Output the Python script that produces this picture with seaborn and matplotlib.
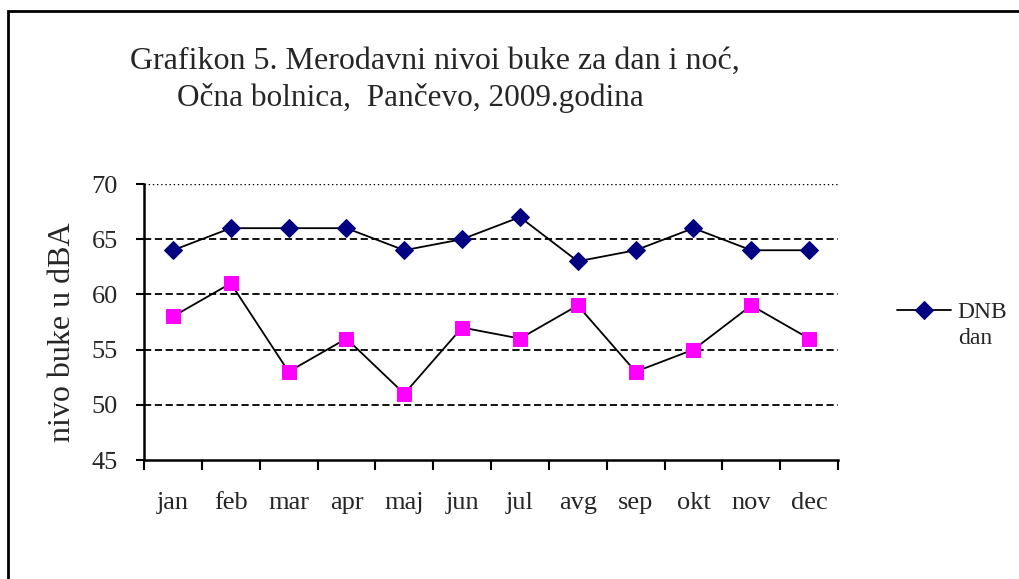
import numpy as np
import pandas as pd
import matplotlib
matplotlib.use('Agg')
import matplotlib.pyplot as plt
import seaborn as sns
from matplotlib.patches import Rectangle

months = ['jan', 'feb', 'mar', 'apr', 'maj', 'jun',
          'jul', 'avg', 'sep', 'okt', 'nov', 'dec']
dnb_dan = [64, 66, 66, 66, 64, 65, 67, 63, 64, 66, 64, 64]
dnb_noc = [58, 61, 53, 56, 51, 57, 56, 59, 53, 55, 59, 56]
y_ticks = [45, 50, 55, 60, 65, 70]

sns.set_style('white')
plt.rcParams['font.family'] = ['Liberation Serif', 'DejaVu Serif']

df = pd.DataFrame({'pos': np.arange(len(months)), 'mesec': months,
                   'dan': dnb_dan, 'noc': dnb_noc})

fig = plt.figure(figsize=(10.2, 5.79), dpi=100)
ax = fig.add_axes([0.1412, 0.2055, 0.6804, 0.4767])

# okvir oko cele slike (desna i donja ivica su odsečene)
fig.patches.append(Rectangle((8 / 1020, -0.05), 1.2, 1 - 11 / 579 + 0.05,
                             transform=fig.transFigure, fill=False,
                             edgecolor='black', linewidth=2))

# mreža
for y in y_ticks[1:-1]:
    ax.axhline(y, color='black', linestyle=(0, (4, 2)), linewidth=1.3, zorder=1)
ax.axhline(70, color='black', linestyle=(0, (1, 2)), linewidth=1.0, zorder=1)

sns.lineplot(data=df, x='pos', y='dan', ax=ax, color='black', linewidth=1.3,
             marker='D', markersize=9, markerfacecolor='#000080',
             markeredgecolor='#000080', label='DNB', zorder=3)
sns.lineplot(data=df, x='pos', y='noc', ax=ax, color='black', linewidth=1.3,
             marker='s', markersize=10, markerfacecolor='#FF00FF',
             markeredgecolor='#FF00FF', label='_noc', zorder=3)

ax.set_xlim(-0.5, len(months) - 0.5)
ax.set_ylim(45, 70)
ax.set_yticks(y_ticks)
ax.set_yticklabels([str(v) for v in y_ticks], fontsize=19)
ax.set_xticks(np.arange(-0.5, len(months), 1.0))
ax.set_xticklabels([])
ax.set_xticks(np.arange(len(months)), minor=True)
ax.set_xticklabels(months, minor=True, fontsize=19)
ax.tick_params(axis='x', which='major', direction='out', length=7, width=1.5,
               color='black', bottom=True)
ax.tick_params(axis='x', which='minor', length=0, pad=23)
ax.tick_params(axis='y', direction='out', length=6, width=1.5, color='black',
               left=True, pad=13)

for s in ['top', 'right']:
    ax.spines[s].set_visible(False)
for s in ['left', 'bottom']:
    ax.spines[s].set_color('black')
    ax.spines[s].set_linewidth(1.8)

ax.set_xlabel('')
ax.set_ylabel('nivo buke u dBA', fontsize=23)
ax.yaxis.set_label_coords(-0.097, 0.464)

ax.legend(loc='center left', bbox_to_anchor=(1.055, 0.535), frameon=False,
          fontsize=17, handlelength=2.25, handletextpad=0.3)
fig.text(958 / 1020, 1 - 339 / 579, 'dan', fontsize=17, ha='left', va='center')

fig.text(0.127, 1 - 61 / 579, 'Grafikon 5. Merodavni nivoi buke za dan i noć,',
         fontsize=23, ha='left', va='center')
fig.text(0.174, 1 - 98 / 579, 'Očna bolnica,  Pančevo, 2009.godina',
         fontsize=22.5, ha='left', va='center')

fig.savefig('out.png', dpi=100, facecolor='white')
